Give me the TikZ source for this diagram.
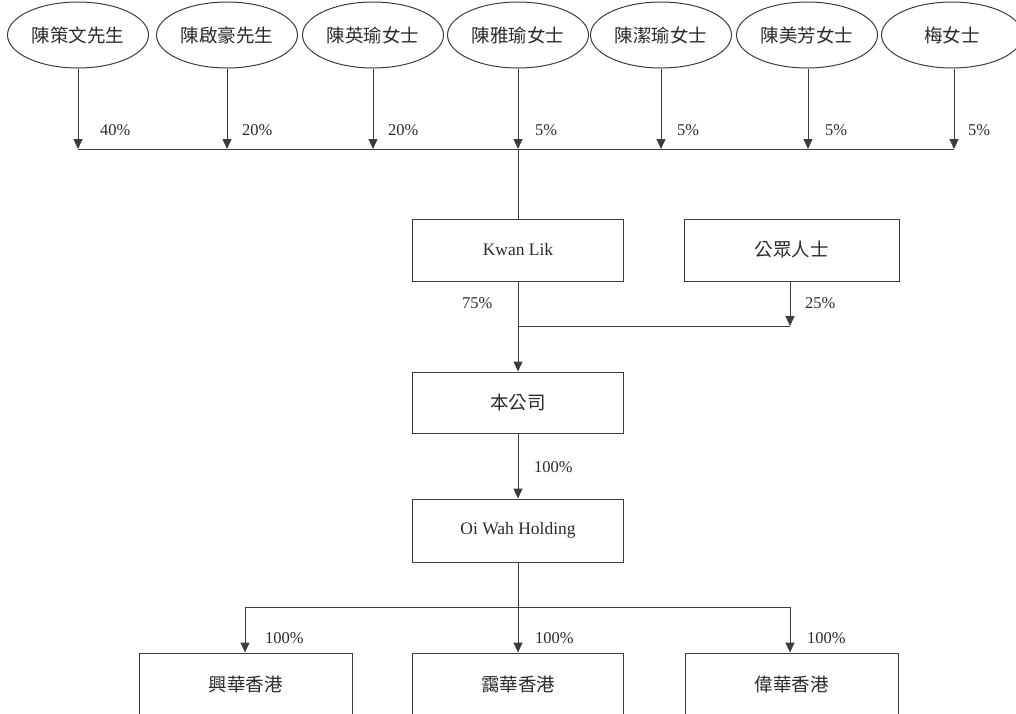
\documentclass[tikz,border=0pt]{standalone}
\usepackage{fontspec}
\setmainfont{Liberation Serif}
\newfontfamily\cjk{Noto Sans CJK TC}
\usetikzlibrary{shapes.geometric,arrows.meta}
\definecolor{linegray}{HTML}{3C3C3C}
\definecolor{textgray}{HTML}{2A2A2A}
\begin{document}
\begin{tikzpicture}[x=1pt,y=-1pt,
  conn/.style={draw=linegray, line width=1pt},
  arr/.style={conn, -{Triangle[length=10pt,width=9pt]}},
  person/.style={ellipse, draw=linegray, line width=1pt, minimum width=141pt, minimum height=66pt, inner sep=0pt, text=textgray, font=\cjk\fontsize{18.5}{20}\selectfont},
  entity/.style={rectangle, draw=linegray, line width=1pt, minimum width=211pt, minimum height=62pt, inner sep=0pt, text=textgray},
  cjktext/.style={font=\cjk\fontsize{18.5}{20}\selectfont},
  lattext/.style={font=\fontsize{17.5}{20}\selectfont},
  pct/.style={anchor=west, inner sep=0pt, text=textgray, font=\fontsize{16.5}{20}\selectfont}]
\useasboundingbox (0,0) rectangle (1016,713);
\clip (0,0) rectangle (1016,713);

% shareholders
\node[person] (p1) at (78,35)  {陳策文先生};
\node[person] (p2) at (227,35) {陳啟豪先生};
\node[person] (p3) at (373,35) {陳英瑜女士};
\node[person] (p4) at (518,35) {陳雅瑜女士};
\node[person] (p5) at (661,35) {陳潔瑜女士};
\node[person] (p6) at (807,35) {陳美芳女士};
\node[person] (p7) at (952,35) {梅女士};

% bus coordinates
\coordinate (b1) at (78,149);
\coordinate (b2) at (227,149);
\coordinate (b3) at (373,149);
\coordinate (b4) at (518,149);
\coordinate (b5) at (661,149);
\coordinate (b6) at (808,149);
\coordinate (b7) at (954,149);

\draw[arr] (p1.south) -- (b1);
\draw[arr] (p2.south) -- (b2);
\draw[arr] (p3.south) -- (b3);
\draw[arr] (p4.south) -- (b4);
\draw[arr] (p5.south) -- (b5);
\draw[arr] (p6.south -| b6) -- (b6);
\draw[arr] (p7.south -| b7) -- (b7);
\draw[conn] (b1) -- (b7);

\node[pct] (l1) at (100,130) {40\%};
\node[pct] (l2) at (242,130) {20\%};
\node[pct] (l3) at (388,130) {20\%};
\node[pct] (l4) at (535,130) {5\%};
\node[pct] (l5) at (677,130) {5\%};
\node[pct] (l6) at (825,130) {5\%};
\node[pct] (l7) at (968,130) {5\%};

% middle entities
\node[entity, lattext] (kl) at (518,250) {Kwan Lik};
\node[entity, cjktext, minimum width=215pt] (pub) at (791.5,250) {公眾人士};
\draw[conn] (b4) -- (kl.north);

\coordinate (j1) at (518,326);
\coordinate (j2) at (790,326);
\draw[conn] (kl.south) -- (j1);
\draw[arr] (pub.south -| j2) -- (j2);
\draw[conn] (j1) -- (j2);
\node[pct] (l75) at (462,303) {75\%};
\node[pct] (l25) at (805,303) {25\%};

\node[entity, cjktext, minimum height=61pt] (co) at (518,402.5) {本公司};
\draw[arr] (j1) -- (co.north);

\node[entity, lattext, minimum height=63pt] (ow) at (518,530.5) {Oi Wah Holding};
\draw[arr] (co.south) -- (ow.north);
\node[pct] (l100) at (534,467) {100\%};

% subsidiaries
\coordinate (s1) at (245,607);
\coordinate (s2) at (518,607);
\coordinate (s3) at (790,607);
\draw[conn] (ow.south) -- (s2);
\draw[conn] (s1) -- (s3);

\node[entity, cjktext, minimum width=213pt] (h1) at (245.5,684) {興華香港};
\node[entity, cjktext] (h2) at (518,684) {靄華香港};
\node[entity, cjktext, minimum width=213pt] (h3) at (791.5,684) {偉華香港};

\draw[arr] (s1) -- (s1 |- h1.north);
\draw[arr] (s2) -- (h2.north);
\draw[arr] (s3) -- (s3 |- h3.north);

\node[pct] (m1) at (265,638) {100\%};
\node[pct] (m2) at (535,638) {100\%};
\node[pct] (m3) at (807,638) {100\%};
\end{tikzpicture}
\end{document}
